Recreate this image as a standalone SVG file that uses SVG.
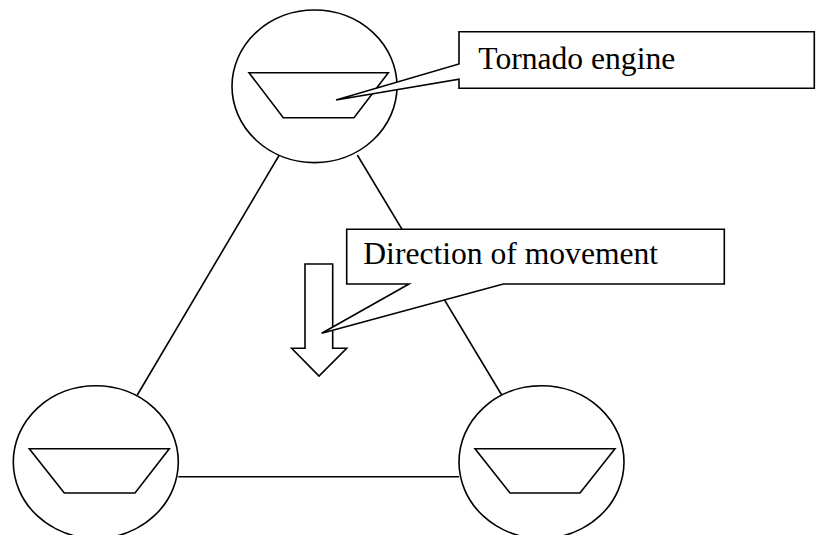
<svg xmlns="http://www.w3.org/2000/svg" width="816" height="535" viewBox="0 0 816 535">
<style>
.shape{fill:#fff;stroke:#000;stroke-width:1.6;stroke-linejoin:miter}
.conn{stroke:#000;stroke-width:1.6;fill:none}
.lbl{font-family:"Liberation Serif","Times New Roman",serif;font-size:31.6px;fill:#000}
</style>
<rect width="816" height="535" fill="#fff"/>
<g id="connectors">
<line class="conn" x1="279.3" y1="155" x2="137.3" y2="395"/>
<line class="conn" x1="357.3" y1="155" x2="501.7" y2="395"/>
<line class="conn" x1="178.3" y1="476.7" x2="459" y2="476.7" stroke-width="2.2"/>
</g>
<g id="engine-top">
<ellipse class="shape" cx="314.5" cy="86.3" rx="82.5" ry="76.3"/>
<polygon class="shape" points="249,72.7 388.3,72.7 354,117.7 283.3,117.7"/>
</g>
<g id="engine-left">
<ellipse class="shape" cx="95.8" cy="462" rx="82.5" ry="76.3"/>
<polygon class="shape" points="29.3,448.7 169.3,448.7 135,493 64.3,493"/>
</g>
<g id="engine-right">
<ellipse class="shape" cx="541.5" cy="462" rx="82.5" ry="76.3"/>
<polygon class="shape" points="475,448.7 615,448.7 580,493 510,493"/>
</g>
<g id="direction-arrow">
<polygon class="shape" points="305,264 332.7,264 332.7,348.3 346.7,348.3 319,376 291.7,348.3 305,348.3"/>
</g>
<g id="callout-tornado">
<polygon class="shape" points="459,31.7 814.3,31.7 814.3,88.3 459,88.3 459,79.3 336,100 459,64"/>
<text class="lbl" x="478.3" y="69.3">Tornado engine</text>
</g>
<g id="callout-direction">
<polygon class="shape" points="346.7,229.3 724.3,229.3 724.3,284 503.3,284 321.7,333.3 409,284 346.7,284"/>
<text class="lbl" x="363.3" y="264.3">Direction of movement</text>
</g>
</svg>
